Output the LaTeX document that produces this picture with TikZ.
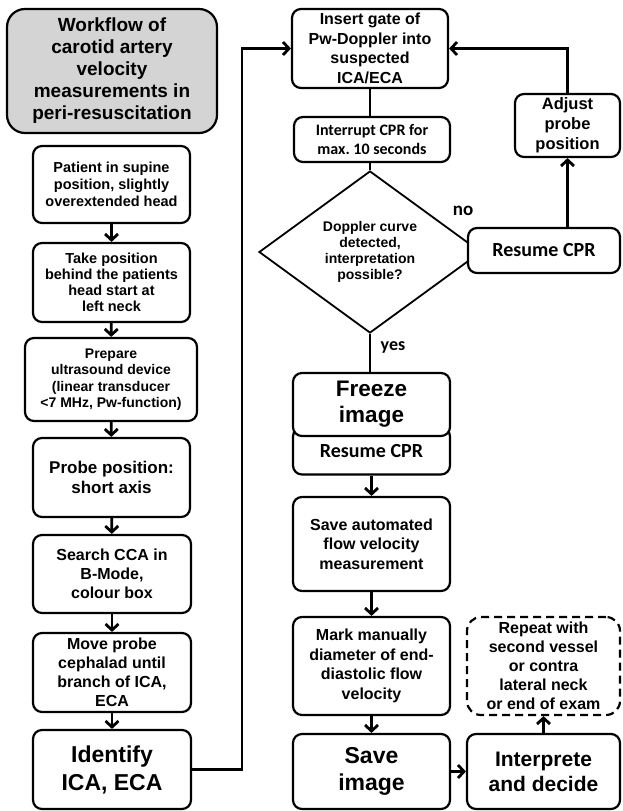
\documentclass[tikz,border=0pt]{standalone}
\usepackage{fontspec}
\setmainfont{Liberation Sans}
\newfontfamily\cbfont{Carlito}
\usetikzlibrary{arrows.meta, shapes.geometric}
\newcommand{\setfs}[2]{\fontsize{#1}{#2}\selectfont}

\begin{document}
\begin{tikzpicture}[
    x=1pt, y=-1pt,
    font=\bfseries,
    >={Straight Barb[length=6pt,width=13pt]},
    blk/.style={draw, line width=2.2pt, rounded corners=9pt, align=center,
                inner sep=0pt, fill=white},
    hd/.style={blk, rounded corners=18pt, fill=black!17},
    dec/.style={draw, line width=1.8pt, shape=diamond, shape aspect=1.37,
                align=center, inner sep=0pt},
    rep/.style={blk, rounded corners=14pt, dash pattern=on 8pt off 5pt},
    lab/.style={inner sep=1pt, font=\bfseries\cbfont\setfs{19}{22}},
    sig/.style={->, line width=2.8pt},
    lnk/.style={line width=2.6pt},
  ]
  \useasboundingbox (0,0) rectangle (622,811);

  %% ---- left column ---------------------------------------------------
  \node[hd, minimum width=210pt, minimum height=124pt,
        font=\bfseries\setfs{19}{22}] (WF) at (112,71)
    {Workflow of\\ carotid artery\\ velocity\\ measurements in\\ peri-resuscitation};
  \node[blk, minimum width=157pt, minimum height=77pt,
        font=\bfseries\setfs{14.5}{17}] (PA) at (111.5,184.5)
    {Patient in supine\\ position, slightly\\ overextended head};
  \node[blk, minimum width=157pt, minimum height=79pt,
        font=\bfseries\setfs{14.5}{16}] (TP) at (111.5,282.5)
    {Take position\\ behind the patients\\ head start at\\ left neck};
  \node[blk, minimum width=172pt, minimum height=83pt,
        font=\bfseries\setfs{14}{16.3}] (PR) at (111,379.5)
    {Prepare\\ ultrasound device\\ (linear transducer\\ <7 MHz, Pw-function)};
  \node[blk, minimum width=157pt, minimum height=79pt,
        font=\bfseries\setfs{17}{20}] (PP) at (111.5,477.5)
    {Probe position:\\ short axis};
  \node[blk, minimum width=158pt, minimum height=78pt,
        font=\bfseries\setfs{16}{19}] (SC) at (112,574)
    {Search CCA in\\ B-Mode,\\ colour box};
  \node[blk, minimum width=158pt, minimum height=79pt,
        font=\bfseries\setfs{16}{19}] (MP) at (112,672.5)
    {Move probe\\ cephalad until\\ branch of ICA,\\ ECA};
  \node[blk, minimum width=158pt, minimum height=79pt,
        font=\bfseries\setfs{23}{28}] (ID) at (112,769.5)
    {Identify\\ ICA, ECA};

  \draw[sig] (PA) -- (TP);
  \draw[sig] (TP) -- (PR);
  \draw[sig] (PR) -- (PP);
  \draw[sig] (PP) -- (SC);
  \draw[sig] (SC) -- (MP);
  \draw[sig] (MP) -- (ID);

  %% ---- Doppler loop (top middle / right) ------------------------------
  \node[blk, minimum width=156pt, minimum height=79pt,
        font=\bfseries\setfs{16}{19.5}] (IG) at (370,48.5)
    {Insert gate of\\ Pw-Doppler into\\ suspected\\ ICA/ECA};
  \node[blk, minimum width=156pt, minimum height=45pt,
        font=\bfseries\cbfont\setfs{16}{19}] (IC) at (372,139.5)
    {Interrupt CPR for\\ max.\ 10 seconds};
  \node[dec, minimum width=222pt, minimum height=162pt,
        font=\bfseries\setfs{14}{16}] (DC) at (370,252)
    {Doppler curve\\ detected,\\ interpretation\\ possible?};
  \node[blk, minimum width=152pt, minimum height=45pt,
        font=\bfseries\cbfont\setfs{20}{24}] (R1) at (544,250.5) {Resume CPR};
  \node[blk, minimum width=105pt, minimum height=63pt,
        font=\bfseries\setfs{16.5}{20}] (AP) at (567.5,125.5)
    {Adjust\\ probe\\ position};
  \node[lab] (NO) at (463,211) {no};
  \node[lab, font=\bfseries\cbfont\setfs{18}{22}] (YS) at (393,347) {yes};
  \coordinate (CN) at (242,48.5);

  \draw[sig] (ID.east) -| (CN) -- (IG.west);
  \draw[lnk] (IG.south) -- (IG.south |- IC.north);
  \draw[lnk] (IC.south -| DC.north) -- (DC.north);
  \draw[sig] (AP.south |- R1.north) -- (AP.south);
  \draw[sig] (AP.north) |- (IG.east);

  %% ---- measurement chain (bottom middle / right) ----------------------
  \node[blk, minimum width=157pt, minimum height=47pt,
        font=\bfseries\cbfont\setfs{20}{24}] (R2) at (371.5,451) {Resume CPR};
  \node[blk, minimum width=157pt, minimum height=63pt,
        font=\bfseries\setfs{22.5}{26}] (FI) at (371.5,404.5) {Freeze\\ image};
  \node[blk, minimum width=157pt, minimum height=94pt,
        font=\bfseries\setfs{16}{19.5}] (SA) at (371.5,544)
    {Save automated\\ flow velocity\\ measurement};
  \node[blk, minimum width=157pt, minimum height=98pt,
        font=\bfseries\setfs{16}{19.5}] (MM) at (371.5,666)
    {Mark manually\\ diameter of end-\\ diastolic flow\\ velocity};
  \node[blk, minimum width=157pt, minimum height=75pt,
        font=\bfseries\setfs{23}{27}] (SI) at (371.5,771.5) {Save\\ image};
  \node[blk, minimum width=153pt, minimum height=75pt,
        font=\bfseries\setfs{21}{25}] (ND) at (543.5,771.5)
    {Interprete\\ and decide};
  \node[rep, minimum width=153pt, minimum height=98pt,
        font=\bfseries\setfs{16}{19}] (RW) at (543.5,666)
    {Repeat with\\ second vessel\\ or contra\\ lateral neck\\ or end of exam};

  \draw[lnk] (DC.south) -- (DC.south |- FI.north);
  \draw[sig] (R2) -- (SA);
  \draw[sig] (SA) -- (MM);
  \draw[sig] (MM) -- (SI);
  \draw[sig] (SI) -- (ND);
  \draw[sig] (ND) -- (RW);

\end{tikzpicture}
\end{document}
